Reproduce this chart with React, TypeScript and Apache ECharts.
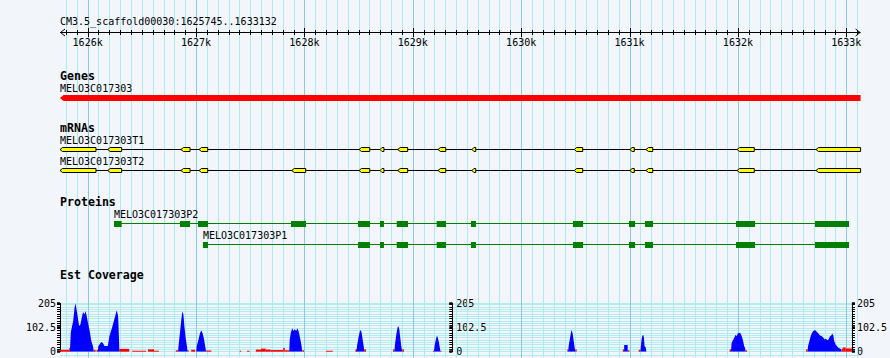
import React, { useEffect, useRef } from 'react';
import * as echarts from 'echarts';

// ---------------- data ----------------
const REGION_START = 1625745;
const REGION_END = 1633132;
const RULER_TITLE = 'CM3.5_scaffold00030:1625745..1633132';
const RULER_KB = [1626, 1627, 1628, 1629, 1630, 1631, 1632, 1633];
const RULER_STEP = 100;

const TRACK_TITLES = ['Genes', 'mRNAs', 'Proteins', 'Est Coverage'];

const GENE_NAME = 'MELO3C017303';
const GENE_SPAN = [1625745, 1633132];

const MRNA_T1_NAME = 'MELO3C017303T1';
const MRNA_T1_EXONS = [
  [1625745, 1626077], [1626185, 1626314], [1626861, 1626945], [1627028, 1627108],
  [1628504, 1628603], [1628698, 1628734], [1628861, 1628953], [1629233, 1629304],
  [1629547, 1629581], [1630490, 1630568], [1631004, 1631044], [1631152, 1631214],
  [1631992, 1632151], [1632721, 1633132],
];
const MRNA_T2_NAME = 'MELO3C017303T2';
const MRNA_T2_EXONS = [
  [1625745, 1626077], [1626185, 1626314], [1626861, 1626945], [1627028, 1627108],
  [1627883, 1628012],
  [1628504, 1628603], [1628698, 1628734], [1628861, 1628953], [1629233, 1629304],
  [1629547, 1629581], [1630490, 1630568], [1631004, 1631044], [1631152, 1631214],
  [1631992, 1632151], [1632721, 1633132],
];

const PROT_P2_NAME = 'MELO3C017303P2';
const PROT_P2_CDS = [
  [1626243, 1626314], [1626852, 1626945], [1627018, 1627111], [1627876, 1628015],
  [1628495, 1628605], [1628698, 1628734], [1628852, 1628956], [1629221, 1629307],
  [1629537, 1629583], [1630478, 1630571], [1630995, 1631051], [1631143, 1631217],
  [1631982, 1632158], [1632711, 1633025],
];
const PROT_P1_NAME = 'MELO3C017303P1';
const PROT_P1_CDS = [
  [1627064, 1627111],
  [1628495, 1628605], [1628698, 1628734], [1628852, 1628956], [1629221, 1629307],
  [1629537, 1629583], [1630478, 1630571], [1630995, 1631051], [1631143, 1631217],
  [1631982, 1632158], [1632711, 1633025],
];

const COV_MAX = 205;
const COV_LABEL_STEP = 102.5;
const COV_MINOR_STEP = 10;

// EST coverage (blue): [position, depth]
const COV_EST = [
  [1625837, 0], [1625846, 83], [1625868, 130], [1625881, 186], [1625890, 205], [1625899, 180],
  [1625914, 137], [1625923, 109], [1625936, 116], [1625948, 144], [1625960, 168], [1625973, 158],
  [1625982, 172], [1625991, 158], [1626006, 123], [1626022, 88], [1626037, 45], [1626052, 24], [1626061, 0],
  [1626098, 0], [1626102, 23], [1626130, 41], [1626145, 37], [1626160, 24], [1626191, 24], [1626206, 66],
  [1626231, 102], [1626252, 137], [1626268, 165], [1626274, 176], [1626287, 151], [1626292, 95], [1626299, 0],
  [1626846, 0], [1626852, 31], [1626864, 80], [1626877, 137], [1626886, 170], [1626896, 158], [1626905, 109],
  [1626917, 59], [1626929, 24], [1626935, 0],
  [1627016, 0], [1627021, 24], [1627037, 52], [1627052, 80], [1627064, 90], [1627076, 77], [1627089, 52],
  [1627099, 24], [1627108, 0],
  [1627883, 0], [1627888, 52], [1627898, 80], [1627911, 99], [1627923, 88], [1627935, 95], [1627948, 88],
  [1627960, 99], [1627972, 84], [1627984, 59], [1627996, 31], [1628006, 0],
  [1628510, 0], [1628516, 24], [1628529, 59], [1628541, 84], [1628550, 92], [1628559, 80], [1628568, 52],
  [1628580, 17], [1628584, 0],
  [1628864, 0], [1628870, 31], [1628882, 73], [1628894, 102], [1628901, 109], [1628910, 95], [1628919, 59],
  [1628928, 24], [1628938, 0],
  [1629233, 0], [1629239, 24], [1629248, 45], [1629260, 66], [1629267, 63], [1629279, 41], [1629288, 17], [1629295, 0],
  [1630485, 0], [1630490, 24], [1630503, 59], [1630513, 84], [1630518, 92], [1630527, 77], [1630537, 45],
  [1630546, 17], [1630552, 0],
  [1631007, 0], [1631008, 28], [1631040, 28], [1631041, 0],
  [1631159, 0], [1631164, 24], [1631170, 52], [1631177, 66], [1631186, 72], [1631192, 59], [1631198, 24],
  [1631210, 17], [1631214, 0],
  [1632004, 0], [1632010, 37], [1632022, 48], [1632035, 59], [1632047, 72], [1632056, 65], [1632068, 77],
  [1632081, 80], [1632093, 77], [1632102, 69], [1632114, 52], [1632127, 24], [1632137, 14], [1632139, 0],
  [1632718, 0], [1632723, 24], [1632736, 45], [1632748, 66], [1632760, 80], [1632773, 88], [1632788, 92],
  [1632804, 84], [1632820, 77], [1632834, 69], [1632850, 66], [1632866, 59], [1632878, 52], [1632890, 55],
  [1632903, 48], [1632914, 52], [1632927, 65], [1632940, 69], [1632948, 77], [1632959, 69], [1632967, 45],
  [1632980, 31], [1632992, 24], [1633005, 17], [1633020, 14], [1633032, 10], [1633038, 0],
];

// secondary coverage (red): [start, end, depth]
const COV_OTHER = [
  [1625745, 1625831, 8], [1625831, 1625842, 16], [1626061, 1626077, 8], [1626086, 1626102, 8],
  [1626299, 1626391, 12], [1626419, 1626548, 4], [1626566, 1626622, 10], [1626622, 1626668, 4],
  [1626825, 1626846, 6], [1626935, 1626945, 6], [1626969, 1627006, 8], [1627108, 1627157, 5],
  [1627421, 1627436, 4], [1627489, 1627514, 4], [1627572, 1627620, 9], [1627620, 1627664, 13],
  [1627664, 1627710, 9], [1627710, 1627827, 7], [1627827, 1627842, 16], [1627842, 1627883, 6],
  [1628006, 1628021, 6], [1628227, 1628289, 4], [1628501, 1628516, 10], [1628584, 1628599, 10],
  [1628852, 1628864, 10], [1628938, 1628953, 10], [1629224, 1629233, 4], [1629295, 1629300, 4],
  [1630478, 1630485, 10], [1630552, 1630564, 10], [1630995, 1631007, 10], [1631041, 1631057, 6],
  [1631143, 1631159, 8], [1631992, 1632004, 10], [1632139, 1632154, 6], [1632705, 1632718, 10],
  [1633038, 1633050, 14], [1633050, 1633074, 18], [1633074, 1633132, 14],
];

// ---------------- style / layout ----------------
const W = 890;
const H = 358;
const PLOT_LEFT = 60;
const PLOT_WIDTH = 800.6;
const BG = '#f2f5fa';
const GRID_MINOR = '#aeeaf0';
const GRID_MAJOR = '#88c8ea';
const HGRID = '#b2ecf0';
const MONO = '"DejaVu Sans Mono", "Liberation Mono", monospace';

const ROW = {
  title: 21,
  axis: 32.5,
  tickLabel: 42,
  genesTitle: 76,
  gene: 98,
  mrnaTitle: 128,
  t1: 149.5,
  t2: 170.5,
  protTitle: 202,
  p2: 223.5,
  p1: 244.5,
  covTitle: 275,
};
const COV_TOP = 303.3;
const COV_HEIGHT = 48.4;
const MID_AXIS_X = 461;

function txt(text: string, x: number, y: number, opts: any = {}) {
  const align = opts.align || 'left';
  return {
    type: 'text',
    x,
    y,
    z: opts.z === undefined ? 0 : opts.z,
    silent: true,
    style: {
      text,
      fill: '#000',
      fontFamily: MONO,
      fontSize: opts.size || 10,
      fontWeight: opts.bold ? 'bold' : 'normal',
      align,
      textAlign: align,
      verticalAlign: 'middle',
      textVerticalAlign: 'middle',
    },
  };
}

const snap = (v: number) => Math.round(v) + 0.5;

// gridline / ruler positions (scale steps, every 100 bp)
const rulerSteps: number[] = [];
for (let p = Math.ceil(REGION_START / RULER_STEP) * RULER_STEP; p <= REGION_END; p += RULER_STEP) rulerSteps.push(p);

function transcriptSeries(name: string, exons: number[][], rowY: number) {
  return {
    type: 'custom',
    xAxisIndex: 0,
    yAxisIndex: 0,
    silent: true,
    z: 5,
    data: [[exons[0][0], exons[exons.length - 1][1], 0], ...exons.map((e) => [e[0], e[1], 1])],
    renderItem: (params: any, api: any) => {
      const s = api.coord([api.value(0), rowY]);
      const e = api.coord([api.value(1), rowY]);
      if (api.value(2) === 0) {
        return {
          type: 'group',
          children: [
            { type: 'line', shape: { x1: s[0], y1: rowY, x2: e[0], y2: rowY }, style: { stroke: '#000', lineWidth: 1 } },
            txt(name, s[0], rowY - 9.5),
          ],
        };
      }
      const x0 = s[0];
      const x1 = e[0];
      const tip = Math.min(2.5, (x1 - x0) / 2);
      const top = rowY - 2;
      const bot = rowY + 2;
      return {
        type: 'polygon',
        shape: { points: [[x0, rowY], [x0 + tip, top], [x1, top], [x1, bot], [x0 + tip, bot]] },
        style: { fill: '#ffff00', stroke: '#000', lineWidth: 1 },
      };
    },
  };
}

function proteinSeries(name: string, cds: number[][], rowY: number) {
  return {
    type: 'custom',
    xAxisIndex: 0,
    yAxisIndex: 0,
    silent: true,
    z: 5,
    data: [[cds[0][0], cds[cds.length - 1][1], 0], ...cds.map((e) => [e[0], e[1], 1])],
    renderItem: (params: any, api: any) => {
      const s = api.coord([api.value(0), rowY]);
      const e = api.coord([api.value(1), rowY]);
      if (api.value(2) === 0) {
        return {
          type: 'group',
          children: [
            { type: 'line', shape: { x1: s[0], y1: rowY, x2: e[0], y2: rowY }, style: { stroke: '#008000', lineWidth: 1 } },
            txt(name, s[0], rowY - 9.5),
          ],
        };
      }
      return {
        type: 'rect',
        shape: { x: s[0], y: rowY - 2.5, width: Math.max(1, e[0] - s[0]), height: 6 },
        style: { fill: '#008000' },
      };
    },
  };
}

function buildOption() {
  const series: any[] = [];

  // vertical grid lines
  series.push({
    type: 'custom',
    xAxisIndex: 0,
    yAxisIndex: 0,
    silent: true,
    z: 1,
    data: rulerSteps.map((p) => [p]),
    renderItem: (params: any, api: any) => {
      const p = api.value(0);
      const x = snap(api.coord([p, 0])[0]);
      return {
        type: 'line',
        shape: { x1: x, y1: 0, x2: x, y2: H },
        style: { stroke: p % 1000 === 0 ? GRID_MAJOR : GRID_MINOR, lineWidth: 1 },
      };
    },
  });

  // ruler ticks
  series.push({
    type: 'custom',
    xAxisIndex: 0,
    yAxisIndex: 0,
    silent: true,
    z: 6,
    data: rulerSteps.map((p) => [p]),
    renderItem: (params: any, api: any) => {
      const p = api.value(0);
      const x = snap(api.coord([p, 0])[0]);
      const major = p % 1000 === 0;
      return {
        type: 'line',
        shape: { x1: x, y1: major ? 28 : 30, x2: x, y2: major ? 37 : 35 },
        style: { stroke: '#000', lineWidth: 1 },
      };
    },
  });

  // ruler tick labels
  series.push({
    type: 'custom',
    xAxisIndex: 0,
    yAxisIndex: 0,
    silent: true,
    z: 6,
    data: RULER_KB.map((k) => [k * 1000]),
    renderItem: (params: any, api: any) => {
      const p = api.value(0);
      const x = api.coord([p, 0])[0];
      return txt(`${p / 1000}k`, x, ROW.tickLabel, { align: 'center' });
    },
  });

  // ruler axis line + arrows + title
  series.push({
    type: 'custom',
    xAxisIndex: 0,
    yAxisIndex: 0,
    silent: true,
    z: 6,
    data: [[REGION_START, REGION_END]],
    renderItem: (params: any, api: any) => {
      const s = api.coord([api.value(0), ROW.axis]);
      const e = api.coord([api.value(1), ROW.axis]);
      const y = ROW.axis;
      return {
        type: 'group',
        children: [
          { type: 'line', shape: { x1: s[0], y1: y, x2: e[0], y2: y }, style: { stroke: '#000', lineWidth: 1 } },
          { type: 'polyline', shape: { points: [[s[0] + 5, y - 3.5], [s[0] + 0.5, y], [s[0] + 5, y + 3.5]] }, style: { stroke: '#000', fill: null, lineWidth: 1 } },
          { type: 'polyline', shape: { points: [[e[0] - 5, y - 3.5], [e[0] - 0.5, y], [e[0] - 5, y + 3.5]] }, style: { stroke: '#000', fill: null, lineWidth: 1 } },
          txt(RULER_TITLE, s[0], ROW.title),
        ],
      };
    },
  });

  // gene
  series.push({
    type: 'custom',
    xAxisIndex: 0,
    yAxisIndex: 0,
    silent: true,
    z: 5,
    data: [GENE_SPAN],
    renderItem: (params: any, api: any) => {
      const yc = ROW.gene;
      const s = api.coord([api.value(0), yc]);
      const e = api.coord([api.value(1), yc]);
      const top = yc - 3;
      const bot = yc + 3;
      return {
        type: 'group',
        children: [
          { type: 'polygon', shape: { points: [[s[0], yc], [s[0] + 3.5, top], [e[0], top], [e[0], bot], [s[0] + 3.5, bot]] }, style: { fill: '#ff0000' } },
          txt(GENE_NAME, s[0], 88),
        ],
      };
    },
  });

  series.push(transcriptSeries(MRNA_T1_NAME, MRNA_T1_EXONS, ROW.t1));
  series.push(transcriptSeries(MRNA_T2_NAME, MRNA_T2_EXONS, ROW.t2));
  series.push(proteinSeries(PROT_P2_NAME, PROT_P2_CDS, ROW.p2));
  series.push(proteinSeries(PROT_P1_NAME, PROT_P1_CDS, ROW.p1));

  // coverage: red (behind)
  series.push({
    type: 'custom',
    xAxisIndex: 1,
    yAxisIndex: 1,
    silent: true,
    z: 3,
    data: COV_OTHER,
    renderItem: (params: any, api: any) => {
      const a = api.coord([api.value(0), api.value(2)]);
      const b = api.coord([api.value(1), 0]);
      return {
        type: 'rect',
        shape: { x: a[0], y: a[1], width: Math.max(1, b[0] - a[0]), height: b[1] - a[1] },
        style: { fill: '#ff0000' },
      };
    },
  });

  // coverage: blue
  series.push({
    type: 'line',
    xAxisIndex: 1,
    yAxisIndex: 1,
    silent: true,
    z: 4,
    symbol: 'none',
    showSymbol: false,
    data: COV_EST,
    lineStyle: { width: 0, opacity: 0 },
    areaStyle: { color: '#0000ff', opacity: 1 },
  });

  const labelStyle = { show: true, color: '#000', fontFamily: MONO, fontSize: 10, showMinLabel: true, showMaxLabel: true };
  const covMinor = (position: string, offset: number, inside: boolean, split: boolean) => ({
    gridIndex: 1,
    type: 'value',
    min: 0,
    max: COV_MAX,
    interval: COV_MINOR_STEP,
    position,
    offset,
    axisLine: { show: true, onZero: false, lineStyle: { color: '#000', width: 1 } },
    axisTick: { show: true, inside, length: 3, lineStyle: { color: '#000', width: 1 } },
    axisLabel: { show: false },
    splitLine: { show: split, lineStyle: { color: HGRID, width: 1 } },
  });
  const covMajor = (position: string, offset: number, inside: boolean, margin: number) => ({
    gridIndex: 1,
    type: 'value',
    min: 0,
    max: COV_MAX,
    interval: COV_LABEL_STEP,
    position,
    offset,
    axisLine: { show: false, onZero: false },
    axisTick: { show: true, inside, length: 3, lineStyle: { color: '#000', width: 2.5 } },
    axisLabel: { ...labelStyle, margin },
    splitLine: { show: false },
  });
  const midOffset = MID_AXIS_X - (PLOT_LEFT + PLOT_WIDTH);
  const titleOpts = { bold: true, size: 11.6, z: 50 };

  return {
    animation: false,
    backgroundColor: BG,
    grid: [
      { left: PLOT_LEFT, top: 0, width: PLOT_WIDTH, height: H },
      { left: PLOT_LEFT, top: COV_TOP, width: PLOT_WIDTH, height: COV_HEIGHT },
    ],
    xAxis: [
      { gridIndex: 0, type: 'value', min: REGION_START, max: REGION_END, show: false },
      { gridIndex: 1, type: 'value', min: REGION_START, max: REGION_END, show: false },
    ],
    yAxis: [
      { gridIndex: 0, type: 'value', min: 0, max: H, inverse: true, show: false },
      covMinor('left', 0, false, true),
      covMajor('left', 0, false, 4),
      covMinor('right', midOffset, true, false),
      covMajor('right', midOffset, true, 4),
      covMinor('right', 0, false, false),
      covMajor('right', 0, false, 5),
    ],
    graphic: {
      elements: [
        txt(TRACK_TITLES[0], PLOT_LEFT, ROW.genesTitle, titleOpts),
        txt(TRACK_TITLES[1], PLOT_LEFT, ROW.mrnaTitle, titleOpts),
        txt(TRACK_TITLES[2], PLOT_LEFT, ROW.protTitle, titleOpts),
        txt(TRACK_TITLES[3], PLOT_LEFT, ROW.covTitle, titleOpts),
        {
          type: 'line',
          silent: true,
          z: 0,
          shape: { x1: PLOT_LEFT, y1: 355.5, x2: PLOT_LEFT + PLOT_WIDTH, y2: 355.5 },
          style: { stroke: HGRID, lineWidth: 1 },
        },
      ],
    },
    series,
  };
}

export default function App() {
  const ref = useRef<HTMLDivElement>(null);
  useEffect(() => {
    document.body.style.margin = '0';
    const chart = echarts.init(ref.current as HTMLDivElement, null, { renderer: 'svg', width: W, height: H });
    chart.setOption(buildOption() as any);
    return () => chart.dispose();
  }, []);
  return <div ref={ref} style={{ width: W, height: H, background: BG }} />;
}
